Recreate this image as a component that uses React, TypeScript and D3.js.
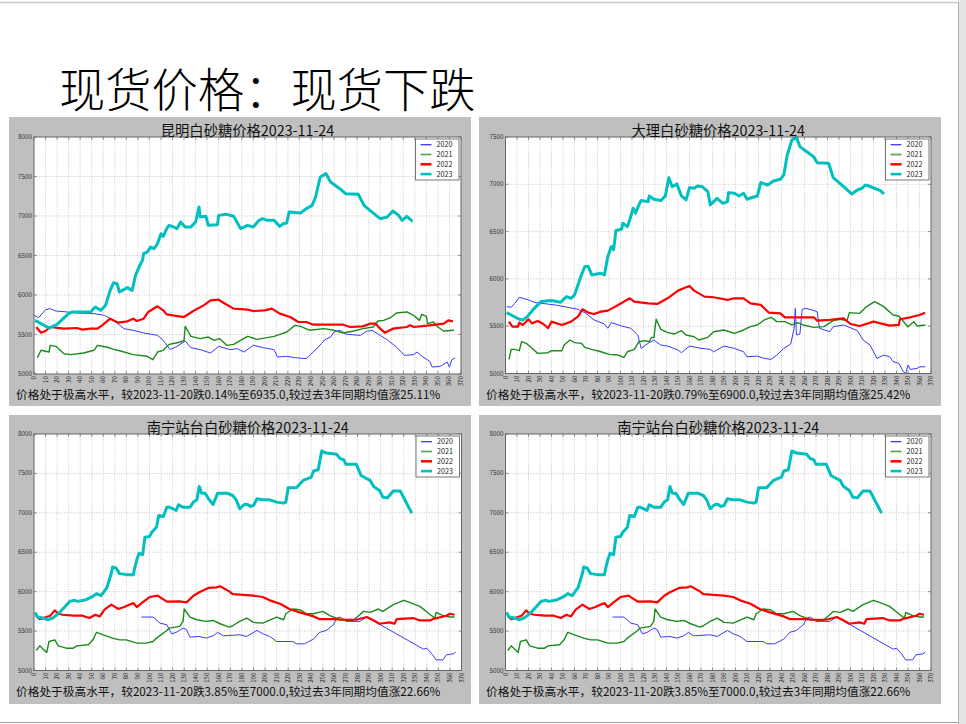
import React from "react";
import * as d3 from "d3";

// ---------------- DATA ----------------
const years = ["2020", "2021", "2022", "2023"];
const xTicks = d3.range(0, 371, 10);

const mainTitle = "现货价格：现货下跌";
const panelTitles = ["昆明白砂糖价格2023-11-24", "大理白砂糖价格2023-11-24", "南宁站台白砂糖价格2023-11-24", "南宁站台白砂糖价格2023-11-24"];
const panelNotes = [
  "价格处于极高水平，较2023-11-20跌0.14%至6935.0,较过去3年同期均值涨25.11%",
  "价格处于极高水平，较2023-11-20跌0.79%至6900.0,较过去3年同期均值涨25.42%",
  "价格处于极高水平，较2023-11-20跌3.85%至7000.0,较过去3年同期均值涨22.66%",
  "价格处于极高水平，较2023-11-20跌3.85%至7000.0,较过去3年同期均值涨22.66%",
];
const panelYMax = [8000, 7500, 8000, 8000];

// 昆明
const km2020: [number, number][] = [[0,5743],[4,5713],[10,5814],[14,5827],[19,5797],[29,5785],[37,5772],[52,5764],[61,5743],[69,5679],[78,5574],[86,5553],[95,5519],[107,5489],[112,5426],[118,5308],[124,5350],[131,5418],[136,5333],[144,5308],[153,5266],[160,5350],[170,5308],[176,5321],[182,5278],[190,5363],[199,5333],[208,5308],[211,5215],[219,5224],[226,5207],[236,5194],[242,5278],[249,5384],[252,5434],[257,5468],[260,5532],[265,5553],[271,5502],[283,5489],[288,5540],[293,5553],[300,5489],[306,5434],[314,5342],[321,5236],[329,5245],[332,5278],[337,5215],[343,5160],[345,5088],[352,5097],[358,5152],[360,5088],[362,5181],[365,5203]];
const km2021: [number, number][] = [[3,5207],[6,5300],[13,5278],[14,5363],[19,5350],[26,5257],[32,5245],[43,5266],[52,5300],[55,5363],[63,5342],[69,5312],[75,5291],[86,5245],[98,5224],[103,5181],[107,5278],[112,5300],[117,5375],[123,5392],[127,5405],[130,5426],[131,5603],[136,5477],[144,5447],[151,5468],[156,5426],[161,5447],[167,5363],[173,5375],[185,5477],[193,5439],[202,5460],[208,5477],[213,5502],[219,5532],[226,5616],[231,5603],[239,5553],[251,5574],[260,5553],[268,5519],[277,5544],[285,5574],[294,5595],[298,5671],[303,5679],[309,5713],[314,5772],[323,5785],[329,5743],[334,5679],[336,5755],[340,5730],[341,5637],[346,5658],[350,5595],[355,5544],[364,5553]];
const km2022: [number, number][] = [[2,5595],[6,5523],[10,5544],[14,5595],[26,5574],[37,5582],[42,5561],[49,5574],[55,5574],[59,5616],[66,5700],[73,5650],[81,5667],[86,5700],[89,5671],[95,5700],[99,5785],[107,5857],[112,5806],[115,5755],[130,5721],[138,5797],[147,5869],[153,5932],[160,5941],[163,5911],[173,5827],[185,5814],[190,5797],[200,5806],[206,5827],[213,5764],[222,5721],[229,5658],[236,5658],[242,5624],[268,5624],[274,5595],[285,5603],[291,5637],[296,5637],[300,5574],[304,5523],[311,5574],[323,5595],[326,5616],[329,5595],[343,5616],[355,5637],[359,5679],[363,5667]];
const km2023: [number, number][] = [[1,5679],[13,5582],[20,5629],[30,5764],[33,5785],[49,5785],[53,5848],[58,5806],[62,5869],[66,6059],[69,6156],[72,6143],[74,6038],[81,6093],[85,6059],[88,6249],[91,6354],[94,6439],[95,6523],[98,6544],[101,6607],[104,6586],[107,6650],[110,6776],[112,6742],[115,6840],[117,6882],[121,6861],[124,6840],[127,6924],[131,6861],[136,6861],[140,6924],[143,7114],[144,6987],[149,6996],[151,6882],[159,6890],[160,7008],[167,7021],[173,6996],[179,6840],[185,6882],[190,6861],[195,6945],[198,6966],[202,6945],[208,6945],[213,6869],[216,6903],[219,6911],[221,7051],[231,7038],[236,7093],[241,7135],[244,7240],[248,7494],[253,7536],[257,7430],[265,7346],[270,7283],[281,7274],[286,7135],[291,7072],[300,6966],[306,6987],[311,7063],[316,7008],[319,6945],[323,6996],[328,6933]];

// 大理
const dl2020: [number, number][] = [[1,5707],[5,5700],[8,5742],[12,5806],[20,5778],[25,5753],[31,5742],[43,5725],[51,5707],[63,5679],[70,5636],[77,5566],[86,5523],[89,5478],[92,5538],[101,5502],[109,5478],[115,5407],[118,5266],[124,5319],[129,5354],[135,5301],[141,5290],[150,5248],[153,5220],[160,5290],[170,5266],[178,5255],[181,5230],[190,5290],[199,5266],[207,5230],[210,5177],[219,5184],[225,5160],[231,5149],[236,5195],[242,5266],[248,5311],[251,5478],[252,5689],[253,5407],[256,5418],[258,5679],[261,5689],[268,5665],[271,5654],[273,5478],[282,5442],[285,5495],[294,5513],[306,5453],[311,5354],[317,5301],[323,5160],[329,5195],[334,5177],[337,5125],[342,5107],[346,5018],[348,5000],[350,5089],[352,5043],[358,5054],[360,5071],[365,5071]];
const dl2021: [number, number][] = [[3,5149],[5,5255],[8,5255],[12,5241],[14,5336],[18,5319],[23,5266],[28,5213],[37,5220],[40,5241],[49,5241],[51,5301],[56,5354],[60,5326],[66,5319],[69,5276],[75,5255],[83,5230],[90,5202],[98,5195],[103,5170],[106,5230],[112,5255],[116,5336],[121,5347],[125,5336],[127,5382],[129,5379],[131,5573],[135,5467],[141,5432],[147,5418],[153,5453],[157,5407],[164,5389],[168,5354],[176,5382],[181,5442],[190,5460],[199,5425],[207,5460],[213,5495],[219,5513],[225,5566],[231,5594],[236,5548],[243,5548],[249,5513],[254,5538],[259,5513],[268,5488],[277,5495],[285,5559],[291,5573],[297,5559],[299,5643],[308,5636],[314,5707],[321,5760],[329,5707],[337,5619],[342,5608],[345,5566],[350,5495],[355,5548],[358,5502],[365,5513]];
const dl2022: [number, number][] = [[3,5548],[6,5495],[11,5495],[12,5538],[15,5513],[20,5573],[23,5530],[28,5555],[33,5523],[37,5478],[40,5548],[49,5513],[57,5548],[63,5601],[67,5679],[72,5643],[77,5629],[83,5654],[89,5665],[98,5725],[103,5760],[108,5795],[112,5760],[124,5742],[132,5735],[141,5795],[150,5876],[155,5901],[160,5926],[164,5876],[173,5813],[181,5806],[193,5778],[199,5795],[207,5795],[213,5742],[222,5725],[229,5643],[239,5636],[243,5594],[268,5594],[271,5559],[282,5566],[294,5583],[300,5523],[308,5502],[320,5548],[334,5506],[342,5513],[343,5573],[352,5594],[360,5619],[365,5643]];
const dl2023: [number, number][] = [[1,5643],[12,5573],[15,5566],[19,5601],[25,5689],[31,5760],[40,5771],[48,5753],[53,5813],[57,5795],[60,5830],[66,6042],[69,6131],[72,6131],[75,6042],[83,6060],[86,6042],[89,6236],[92,6342],[94,6307],[96,6511],[101,6525],[102,6588],[106,6553],[108,6623],[111,6747],[113,6694],[116,6782],[118,6828],[124,6817],[125,6877],[129,6842],[135,6828],[139,6877],[142,7070],[145,6975],[149,7004],[153,6877],[157,6835],[160,6965],[164,6958],[167,6982],[171,6975],[176,6923],[178,6782],[184,6852],[189,6799],[193,6817],[194,6912],[199,6905],[203,6877],[207,6905],[210,6842],[215,6863],[219,6877],[222,7018],[228,6993],[233,7035],[239,7053],[242,7099],[245,7310],[249,7468],[253,7496],[256,7398],[262,7345],[268,7292],[271,7229],[281,7222],[285,7070],[290,7018],[294,6975],[301,6898],[306,6940],[310,6958],[313,6993],[316,6982],[326,6933],[329,6898]];

// 南宁站台
const nn2020: [number, number][] = [[93,5678],[103,5678],[109,5601],[115,5580],[119,5466],[123,5483],[129,5538],[132,5517],[135,5423],[143,5432],[149,5411],[155,5440],[159,5483],[164,5440],[178,5453],[184,5432],[193,5508],[198,5466],[204,5432],[210,5368],[224,5368],[227,5339],[234,5339],[242,5398],[247,5483],[253,5508],[259,5580],[262,5665],[265,5678],[270,5623],[282,5623],[288,5678],[337,5271],[340,5283],[345,5199],[348,5135],[354,5135],[357,5199],[363,5211],[365,5233]];
const nn2021: [number, number][] = [[2,5254],[5,5313],[8,5271],[11,5228],[13,5368],[18,5389],[21,5313],[28,5283],[34,5283],[37,5313],[47,5326],[51,5389],[54,5483],[60,5453],[68,5411],[74,5389],[80,5389],[89,5347],[97,5347],[103,5368],[106,5411],[115,5508],[117,5538],[126,5559],[129,5623],[130,5780],[135,5678],[141,5644],[149,5623],[155,5635],[161,5593],[169,5551],[172,5568],[178,5623],[184,5665],[190,5610],[198,5601],[210,5678],[216,5644],[218,5720],[224,5780],[230,5771],[236,5720],[242,5720],[250,5750],[256,5695],[265,5644],[276,5635],[282,5707],[285,5750],[291,5737],[298,5780],[302,5750],[311,5835],[320,5890],[325,5864],[334,5813],[343,5707],[347,5665],[348,5737],[354,5695],[360,5678],[364,5678]];
const nn2022: [number, number][] = [[2,5695],[5,5652],[8,5665],[14,5695],[18,5763],[21,5720],[25,5707],[34,5695],[42,5695],[48,5665],[53,5707],[57,5686],[61,5771],[67,5835],[73,5780],[78,5805],[86,5856],[89,5805],[94,5864],[100,5932],[107,5949],[115,5873],[126,5877],[132,5864],[138,5949],[143,5992],[151,6047],[158,6055],[161,6068],[169,6004],[172,5970],[190,5949],[198,5932],[204,5890],[213,5847],[221,5780],[230,5737],[242,5686],[247,5652],[259,5652],[270,5644],[279,5644],[288,5678],[294,5635],[299,5593],[308,5610],[312,5593],[314,5652],[328,5665],[334,5635],[343,5635],[345,5652],[357,5695],[360,5720],[364,5707]];
const nn2023: [number, number][] = [[1,5737],[3,5678],[8,5665],[12,5644],[16,5665],[21,5720],[27,5813],[31,5877],[35,5890],[38,5877],[45,5898],[51,5941],[54,5975],[58,5949],[63,6047],[67,6237],[68,6314],[71,6301],[74,6229],[80,6216],[86,6216],[87,6288],[89,6406],[91,6487],[94,6470],[96,6690],[100,6699],[102,6754],[106,6818],[108,6966],[112,6953],[115,7072],[117,7072],[123,7030],[125,7102],[129,7072],[135,7072],[138,7136],[141,7165],[143,7335],[145,7250],[148,7250],[151,7178],[155,7106],[159,7250],[167,7250],[172,7220],[175,7165],[178,7051],[182,7106],[185,7106],[187,7081],[190,7093],[193,7178],[198,7165],[204,7165],[210,7136],[216,7123],[218,7136],[220,7318],[227,7318],[233,7411],[240,7454],[242,7530],[246,7547],[249,7784],[253,7759],[262,7742],[265,7687],[268,7674],[270,7615],[279,7615],[283,7475],[288,7433],[291,7411],[294,7335],[299,7284],[302,7199],[306,7191],[311,7276],[317,7276],[327,6996]];

const panelSeries = [
  [km2020, km2021, km2022, km2023],
  [dl2020, dl2021, dl2022, dl2023],
  [nn2020, nn2021, nn2022, nn2023],
  [nn2020, nn2021, nn2022, nn2023],
];

// ---------------- STYLE / LAYOUT ----------------
const seriesColor = ["#3a3aff", "#1b8a1b", "#ff0000", "#00bfbf"];
const seriesWidth = [1, 1.4, 2.2, 3];
const FONT = "'Noto Sans CJK SC', 'Noto Sans', sans-serif";

const layouts = [
  { bg: { x: 9, y: 117, w: 462, h: 289 }, plot: { x: 34, y: 137, w: 427, h: 237 } },
  { bg: { x: 479, y: 117, w: 462, h: 289 }, plot: { x: 505.5, y: 137, w: 425.5, h: 236.5 } },
  { bg: { x: 9, y: 415, w: 462, h: 289 }, plot: { x: 34, y: 434, w: 427.5, h: 236.5 } },
  { bg: { x: 479, y: 415, w: 462, h: 289 }, plot: { x: 505.5, y: 434, w: 425.5, h: 236.5 } },
];

function Panel({ idx }: { idx: number }) {
  const { bg, plot } = layouts[idx];
  const yMax = panelYMax[idx];
  const x = d3.scaleLinear().domain([0, 370]).range([plot.x, plot.x + plot.w]);
  const y = d3.scaleLinear().domain([5000, yMax]).range([plot.y + plot.h, plot.y]);
  const yTicks = d3.range(5000, yMax + 1, 500);
  const line = d3
    .line<[number, number]>()
    .x((d) => x(d[0]))
    .y((d) => y(d[1]));
  const series = panelSeries[idx];
  const right = plot.x + plot.w;
  const bottom = plot.y + plot.h;
  const lg = { x: right - 45.5, y: plot.y + 2, w: 43.5, h: 41 };
  const clipId = `clip${idx}`;
  return (
    <g>
      <rect x={bg.x} y={bg.y} width={bg.w} height={bg.h} fill="#bfbfbf" />
      <rect x={plot.x} y={plot.y} width={plot.w} height={plot.h} fill="#ffffff" />
      <defs>
        <clipPath id={clipId}>
          <rect x={plot.x} y={plot.y - 2} width={plot.w} height={plot.h + 4} />
        </clipPath>
      </defs>
      {/* grid */}
      {xTicks.slice(1, -1).map((t) => (
        <line key={"gx" + t} x1={x(t)} x2={x(t)} y1={plot.y} y2={bottom} stroke="#a8a8a8" strokeWidth={0.6} strokeDasharray="1,1.5" />
      ))}
      {yTicks.slice(1, -1).map((t) => (
        <line key={"gy" + t} x1={plot.x} x2={right} y1={y(t)} y2={y(t)} stroke="#a8a8a8" strokeWidth={0.6} strokeDasharray="1,1.5" />
      ))}
      {/* ticks */}
      {xTicks.map((t) => (
        <g key={"tx" + t}>
          <line x1={x(t)} x2={x(t)} y1={bottom} y2={bottom - 3} stroke="#555" strokeWidth={0.6} />
          <line x1={x(t)} x2={x(t)} y1={plot.y} y2={plot.y + 3} stroke="#555" strokeWidth={0.6} />
          <text
            transform={`translate(${x(t) + 2},${bottom + 2}) rotate(-90)`}
            textAnchor="end"
            fontSize={6.2}
            fill="#333"
            fontFamily={FONT}
          >
            {t}
          </text>
        </g>
      ))}
      {yTicks.map((t) => (
        <g key={"ty" + t}>
          <line x1={plot.x} x2={plot.x + 3} y1={y(t)} y2={y(t)} stroke="#555" strokeWidth={0.6} />
          <line x1={right} x2={right - 3} y1={y(t)} y2={y(t)} stroke="#555" strokeWidth={0.6} />
          <text x={plot.x - 2} y={y(t) + 2} textAnchor="end" fontSize={6.3} fill="#333" fontFamily={FONT}>
            {t}
          </text>
        </g>
      ))}
      {/* series */}
      <g clipPath={`url(#${clipId})`}>
        {series.map((s, i) => (
          <path key={years[i]} d={line(s) || ""} fill="none" stroke={seriesColor[i]} strokeWidth={seriesWidth[i]} strokeLinejoin="round" />
        ))}
      </g>
      {/* frame */}
      <rect x={plot.x} y={plot.y} width={plot.w} height={plot.h} fill="none" stroke="#666" strokeWidth={1} />
      {/* legend */}
      <rect x={lg.x} y={lg.y} width={lg.w} height={lg.h} fill="#fff" stroke="#555" strokeWidth={0.8} />
      {years.map((yr, i) => {
        const ly = lg.y + 5.7 + i * 9.8;
        return (
          <g key={"lg" + yr}>
            <line x1={lg.x + 5} x2={lg.x + 16} y1={ly} y2={ly} stroke={seriesColor[i]} strokeWidth={Math.min(seriesWidth[i] + 0.3, 2.6)} opacity={i === 1 ? 0.75 : 1} />
            <text x={lg.x + 21} y={ly + 2.5} fontSize={7.2} fill="#222" fontFamily={FONT}>
              {yr}
            </text>
          </g>
        );
      })}
      {/* title */}
      <text x={plot.x + plot.w / 2} y={plot.y - 1.5} textAnchor="middle" fontSize={14.3} fill="#111" fontFamily={FONT}>
        {panelTitles[idx]}
      </text>
      {/* note */}
      <text x={bg.x + 7} y={bottom + 25} fontSize={11.7} fill="#111" fontFamily={FONT}>
        {panelNotes[idx]}
      </text>
    </g>
  );
}

export default function App() {
  return (
    <div style={{ position: "absolute", left: 0, top: 0 }}>
      <svg width={966} height={724} style={{ display: "block", background: "#fff" }}>
        <rect x={0} y={0} width={966} height={724} fill="#ffffff" />
        <rect x={958} y={0} width={8} height={724} fill="#e4e4e4" />
        <line x1={0} x2={958} y1={2.5} y2={2.5} stroke="#c8c8c8" strokeWidth={1.5} />
        <line x1={958.5} x2={958.5} y1={2} y2={724} stroke="#b0b0b0" strokeWidth={1} />
        <line x1={0} x2={958} y1={722.5} y2={722.5} stroke="#a0a0a0" strokeWidth={1} />
        <text x={59} y={107} fontSize={46.3} fill="#000" fontFamily={FONT} fontWeight={300}>
          {mainTitle}
        </text>
        {layouts.map((_, i) => (
          <Panel key={i} idx={i} />
        ))}
      </svg>
    </div>
  );
}
